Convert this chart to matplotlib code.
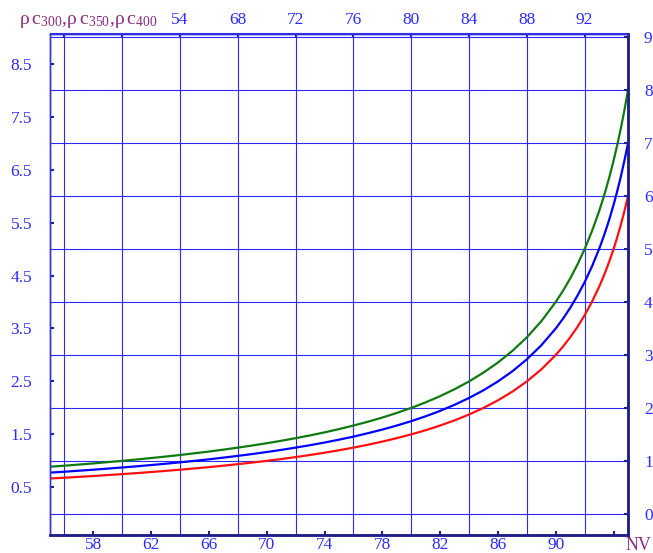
import matplotlib
matplotlib.use("Agg")
import matplotlib.pyplot as plt
import numpy as np

plt.rcParams['font.family'] = ['Liberation Serif', 'DejaVu Serif']
plt.rcParams['mathtext.fontset'] = 'custom'
plt.rcParams['mathtext.rm'] = 'Liberation Serif'
plt.rcParams['mathtext.default'] = 'regular'

# values (NV and the three rho*c curves)
nv = [55, 56, 57, 58, 59, 60, 61, 62, 63, 64, 65, 66, 67, 68, 69, 70, 71, 72, 73, 74,
      75, 76, 77, 78, 79, 80, 81, 82, 83, 84, 85, 86, 87, 88, 89, 90, 90.5, 91, 91.5,
      92, 92.5, 93, 93.25, 93.5, 93.75, 94, 94.25, 94.5, 94.75, 95]
rc300 = [0.667, 0.682, 0.698, 0.714, 0.732, 0.750, 0.769, 0.789, 0.811, 0.833, 0.857,
         0.882, 0.909, 0.938, 0.968, 1.000, 1.034, 1.071, 1.111, 1.154, 1.200, 1.250,
         1.304, 1.364, 1.429, 1.500, 1.579, 1.667, 1.765, 1.875, 2.000, 2.143, 2.308,
         2.500, 2.727, 3.000, 3.158, 3.333, 3.529, 3.750, 4.000, 4.286, 4.444, 4.615,
         4.800, 5.000, 5.217, 5.455, 5.714, 6.000]
rc350 = [0.778, 0.795, 0.814, 0.833, 0.854, 0.875, 0.897, 0.921, 0.946, 0.972, 1.000,
         1.029, 1.061, 1.094, 1.129, 1.167, 1.207, 1.250, 1.296, 1.346, 1.400, 1.458,
         1.522, 1.591, 1.667, 1.750, 1.842, 1.944, 2.059, 2.188, 2.333, 2.500, 2.692,
         2.917, 3.182, 3.500, 3.684, 3.889, 4.118, 4.375, 4.667, 5.000, 5.185, 5.385,
         5.600, 5.833, 6.087, 6.364, 6.667, 7.000]
rc400 = [0.889, 0.909, 0.930, 0.952, 0.976, 1.000, 1.026, 1.053, 1.081, 1.111, 1.143,
         1.176, 1.212, 1.250, 1.290, 1.333, 1.379, 1.429, 1.481, 1.538, 1.600, 1.667,
         1.739, 1.818, 1.905, 2.000, 2.105, 2.222, 2.353, 2.500, 2.667, 2.857, 3.077,
         3.333, 3.636, 4.000, 4.211, 4.444, 4.706, 5.000, 5.333, 5.714, 5.926, 6.154,
         6.400, 6.667, 6.957, 7.273, 7.619, 8.000]

bottom_ticks = [58, 62, 66, 70, 74, 78, 82, 86, 90, 94]
bottom_labels = ['58', '62', '66', '70', '74', '78', '82', '86', '90', '']
top_ticks = [56, 60, 64, 68, 72, 76, 80, 84, 88, 92]
top_labels = ['', '', '54', '68', '72', '76', '80', '84', '88', '92']
left_ticks = [0.5, 1.5, 2.5, 3.5, 4.5, 5.5, 6.5, 7.5, 8.5]
right_ticks = [0, 1, 2, 3, 4, 5, 6, 7, 8, 9]

tick_col = '#2b2bff'
grid_col = '#2a2aff'
purple = '#8a2a80'
navy = '#20208a'

fig = plt.figure(figsize=(6.53, 5.53), dpi=100)
ax = fig.add_axes([50/653, 1-535/553, 578/653, 501.5/553])
ax.set_xlim(55, 95)
ax.set_ylim(-0.4, 9.07)

# grid every 2 NV and every 0.5
ax.set_xticks(np.arange(56, 95, 2), minor=True)
ax.set_yticks(np.arange(0, 9.01, 0.5), minor=True)
ax.grid(True, which='minor', color=grid_col, lw=0.8)
ax.tick_params(which='minor', length=0)

ax.plot(nv, rc300, color='#ff1010', lw=1.6, zorder=3)
ax.plot(nv, rc350, color='#0000ff', lw=1.6, zorder=3)
ax.plot(nv, rc400, color='#107a10', lw=1.6, zorder=3)

ax.set_xticks(bottom_ticks)
ax.set_xticklabels(bottom_labels)
ax.set_yticks(left_ticks)
ax.set_yticklabels([str(v) for v in left_ticks])
ax.tick_params(axis='both', which='major', direction='in', length=3, width=1.5,
               color=navy, labelcolor=tick_col, labelsize=12.5)
ax.tick_params(axis='y', pad=13)
ax.tick_params(axis='x', pad=1.5)

axr = ax.twinx()
axr.set_ylim(ax.get_ylim())
axr.set_yticks(right_ticks)
axr.tick_params(direction='in', length=3, width=1.5, color=navy,
                labelcolor=tick_col, labelsize=12.5, pad=11.5)

axt = ax.secondary_xaxis('top')
axt.set_xticks(top_ticks)
axt.set_xticklabels(top_labels)
axt.tick_params(direction='in', length=3, width=1.5, color=navy,
                labelcolor=tick_col, labelsize=12.5, pad=4)

for a in (ax, axr):
    a.spines['left'].set_color('#3030e0')
    a.spines['top'].set_color('#3030e0')
    a.spines['right'].set_color(navy)
    a.spines['bottom'].set_color(navy)
    a.spines['right'].set_linewidth(1.8)
    a.spines['bottom'].set_linewidth(1.8)
    a.spines['left'].set_linewidth(1.0)
    a.spines['top'].set_linewidth(1.0)
axt.spines['top'].set_color('#3030e0')

fig.text(19/653, 1-24/553, r'ρ$\,$c$_{300}$,ρ$\,$c$_{350}$,ρ$\,$c$_{400}$', color=purple,
         fontsize=14, ha='left', va='baseline')
fig.text(626/653, 1-545/553, 'NV', color=purple, fontsize=13, ha='left', va='center')

fig.savefig('out.png', dpi=100)
